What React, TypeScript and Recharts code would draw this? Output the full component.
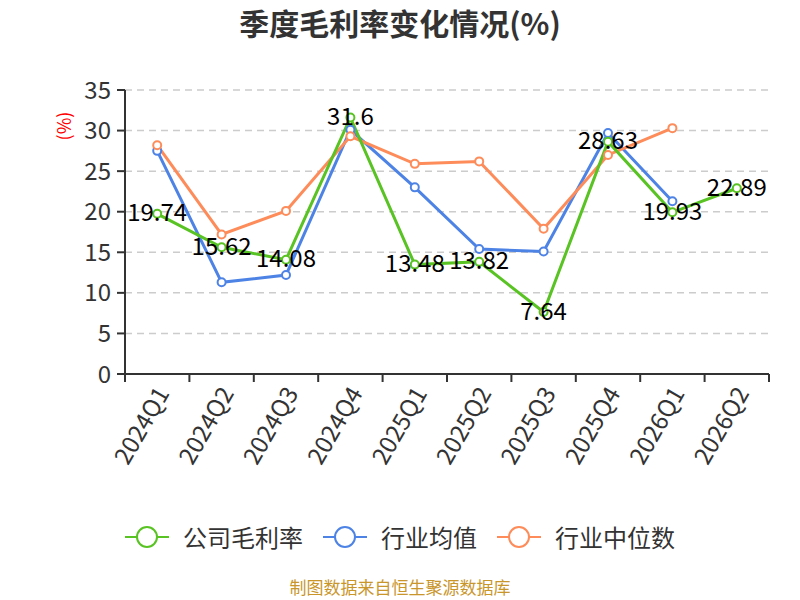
import React from "react";
import { LineChart, Line, XAxis, YAxis, CartesianGrid, LabelList } from "recharts";

const quarters = ["2024Q1", "2024Q2", "2024Q3", "2024Q4", "2025Q1", "2025Q2", "2025Q3", "2025Q4", "2026Q1", "2026Q2"];
const companyMargin = [19.74, 15.62, 14.08, 31.6, 13.48, 13.82, 7.64, 28.63, 19.93, 22.89];
const industryAvg = [27.5, 11.3, 12.2, 30.1, 23.0, 15.4, 15.1, 29.7, 21.3, null];
const industryMedian = [28.2, 17.2, 20.1, 29.3, 25.9, 26.2, 17.9, 27.0, 30.3, null];
const yTicks = [0, 5, 10, 15, 20, 25, 30, 35];

const GREEN = "#58c322";
const BLUE = "#4e83e6";
const ORANGE = "#fd8c5a";
const FONT = "'Noto Sans CJK SC', 'Noto Sans', sans-serif";

// x runs on a number scale so the tick marks sit between the quarters
const data = quarters.map((q, i) => ({
  x: i + 0.5,
  name: q,
  company: companyMargin[i],
  avg: industryAvg[i],
  median: industryMedian[i],
}));
const xTicks = Array.from({ length: quarters.length * 2 + 1 }, (_, i) => i / 2);

const XTick = (props: any) => {
  const { x, y, payload } = props;
  const v = payload.value;
  if (Number.isInteger(v)) {
    return <line x1={x} y1={y} x2={x} y2={y + 8} stroke="#333" strokeWidth={2} />;
  }
  const label = quarters[Math.floor(v)];
  const ax = x + 4;
  const ay = y + 14;
  return (
    <text
      x={ax}
      y={ay}
      transform={`rotate(-60, ${ax}, ${ay})`}
      textAnchor="end"
      dominantBaseline="central"
      fontSize={24}
      fill="#333"
      fontFamily={FONT}
    >
      {label}
    </text>
  );
};

const ValueLabel = (props: any) => {
  const { x, y, value } = props;
  if (value == null) return null;
  return (
    <text x={x} y={y - 3} textAnchor="middle" dominantBaseline="central" fontSize={24} fill="#000" fontFamily={FONT}>
      {value}
    </text>
  );
};

const legendItems = [
  { name: "公司毛利率", color: GREEN },
  { name: "行业均值", color: BLUE },
  { name: "行业中位数", color: ORANGE },
];

const LegendIcon = ({ color }: { color: string }) => (
  <svg width={44} height={24} style={{ display: "block" }}>
    <line x1={0} y1={12} x2={44} y2={12} stroke={color} strokeWidth={2} />
    <circle cx={22} cy={12} r={10} fill="#fff" stroke={color} strokeWidth={2} />
  </svg>
);

export default function App() {
  const dot = (color: string) => ({ r: 4, fill: "#fff", stroke: color, strokeWidth: 2 });
  return (
    <div style={{ position: "absolute", left: 0, top: 0, width: 800, height: 600, fontFamily: FONT, background: "#fff" }}>
      <div
        style={{
          position: "absolute",
          top: 4,
          width: 800,
          textAlign: "center",
          fontSize: 30,
          lineHeight: "36px",
          fontWeight: "bold",
          color: "#333",
        }}
      >
        季度毛利率变化情况(%)
      </div>
      <div
        style={{
          position: "absolute",
          left: 63,
          top: 126,
          transform: "translate(-50%, -50%) rotate(-90deg)",
          color: "#ff0000",
          fontSize: 18,
          whiteSpace: "nowrap",
        }}
      >
        (%)
      </div>

      <LineChart width={800} height={600} data={data} margin={{ top: 90, right: 31, left: 0, bottom: 0 }}>
        <CartesianGrid vertical={false} stroke="#ccc" strokeDasharray="7 5" strokeWidth={1.5} />
        <XAxis
          dataKey="x"
          type="number"
          domain={[0, 10]}
          ticks={xTicks}
          interval={0}
          height={226}
          tickLine={false}
          tickSize={0}
          tickMargin={0}
          axisLine={{ stroke: "#333", strokeWidth: 2 }}
          tick={<XTick />}
        />
        <YAxis
          width={125}
          domain={[0, 35]}
          ticks={yTicks}
          interval={0}
          tickSize={8}
          tickMargin={6}
          axisLine={{ stroke: "#333", strokeWidth: 2 }}
          tickLine={{ stroke: "#333", strokeWidth: 2 }}
          tick={{ fontSize: 24, fill: "#333", fontFamily: FONT }}
        />
        <Line dataKey="avg" stroke={BLUE} strokeWidth={3} dot={dot(BLUE)} isAnimationActive={false} />
        <Line dataKey="median" stroke={ORANGE} strokeWidth={3} dot={dot(ORANGE)} isAnimationActive={false} />
        <Line dataKey="company" stroke={GREEN} strokeWidth={3} dot={dot(GREEN)} isAnimationActive={false}>
          <LabelList dataKey="company" content={<ValueLabel />} />
        </Line>
      </LineChart>

      <div
        style={{
          position: "absolute",
          top: 522,
          left: 0,
          width: 800,
          display: "flex",
          justifyContent: "center",
          alignItems: "center",
          gap: 20,
          fontSize: 24,
          lineHeight: "30px",
          color: "#333",
        }}
      >
        {legendItems.map((it) => (
          <div key={it.name} style={{ display: "flex", alignItems: "center", gap: 14 }}>
            <LegendIcon color={it.color} />
            <span>{it.name}</span>
          </div>
        ))}
      </div>
      <div
        style={{
          position: "absolute",
          top: 577,
          width: 800,
          textAlign: "center",
          fontSize: 17,
          lineHeight: "20px",
          color: "#c9962b",
        }}
      >
        制图数据来自恒生聚源数据库
      </div>
    </div>
  );
}
